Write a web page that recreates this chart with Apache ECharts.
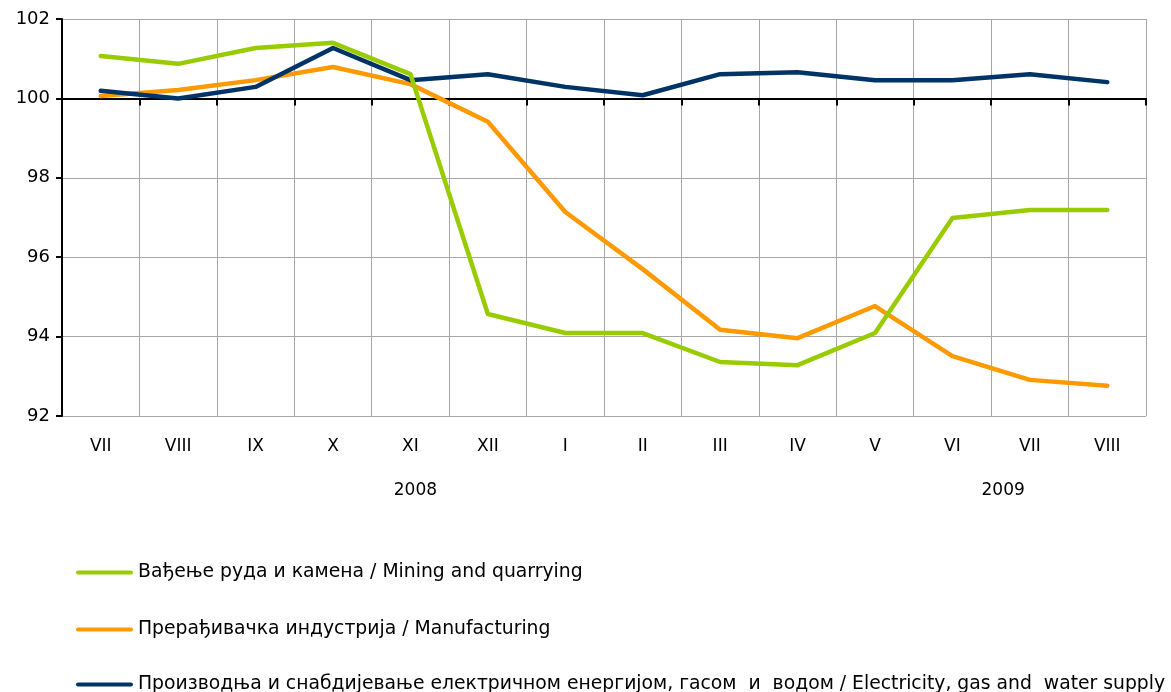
<!DOCTYPE html>
<html><head><meta charset="utf-8">
<script src="https://cdn.jsdelivr.net/npm/echarts@6/dist/echarts.min.js"></script>
<style>html,body{margin:0;padding:0;background:#fff}#c{width:1171px;height:692px}</style>
</head><body><div id="c"></div>
<script>
var categories = ['VII','VIII','IX','X','XI','XII','I','II','III','IV','V','VI','VII','VIII'];
var yearLabels = ['2008','2009'];
var seriesNames = [
  'Вађење руда и камена / Mining and quarrying',
  'Прерађивачка индустрија / Manufacturing',
  'Производња и снабдијевање електричном енергијом, гасом  и  водом / Electricity, gas and  water supply'
];
var mining = [101.07,100.87,101.27,101.40,100.61,94.57,94.09,94.09,93.36,93.28,94.09,96.99,97.19,97.19];
var manufacturing = [100.06,100.21,100.46,100.79,100.36,99.41,97.14,95.70,94.17,93.96,94.77,93.51,92.91,92.76];
var electricity = [100.19,100.00,100.29,101.27,100.46,100.61,100.29,100.08,100.61,100.66,100.46,100.46,100.61,100.41];
var yTicks = {min:92, max:102, interval:2};

var FONT = 'DejaVu Sans';
var chart = echarts.init(document.getElementById('c'), null, {renderer:'canvas'});
var gridTop = 19, gridBottom = 276, gridH = 692 - gridTop - gridBottom;
var offset100 = -gridH * (100 - yTicks.min) / (yTicks.max - yTicks.min);
var icon = 'path://M2,0 L55,0 A2,2 0 0 1 55,4 L2,4 A2,2 0 0 1 2,0 Z';
var colors = ['#99cc00','#ff9900','#003366'];
var legendTops = [558, 615, 670];
function mkLegend(i){
  return {orient:'vertical', left:71, top:legendTops[i], itemWidth:57, itemHeight:5,
    textStyle:{fontFamily:FONT, fontSize:18.8, color:'#000'},
    data:[{name:seriesNames[i], icon:icon}]};
}
var lineSeries = [mining, manufacturing, electricity];
var zs = [4,2,3];
chart.setOption({
  animation:false,
  textStyle:{fontFamily:FONT},
  grid:{left:62, right:25, top:gridTop, bottom:gridBottom, containLabel:false},
  legend:[mkLegend(0), mkLegend(1), mkLegend(2)],
  xAxis:[{
    type:'category', data:categories, boundaryGap:true, position:'bottom',
    axisLine:{show:false}, axisTick:{show:false},
    axisLabel:{fontFamily:FONT, fontSize:17, color:'#000', margin:22, interval:0},
    splitLine:{show:true, interval:0, lineStyle:{color:'#a6a6a6', width:1}}
  },{
    type:'category', data:categories, boundaryGap:true, position:'bottom', offset:offset100,
    axisLine:{show:true, lineStyle:{color:'#000', width:2}},
    axisTick:{show:true, length:7, interval:0, lineStyle:{color:'#000', width:2}},
    axisLabel:{show:false}, splitLine:{show:false}
  }],
  yAxis:{
    type:'value', min:yTicks.min, max:yTicks.max, interval:yTicks.interval,
    axisLine:{show:true, lineStyle:{color:'#000', width:2}},
    axisTick:{show:true, length:6, lineStyle:{color:'#000', width:2}},
    axisLabel:{fontFamily:FONT, fontSize:18, color:'#000', margin:12},
    splitLine:{show:true, lineStyle:{color:'#a6a6a6', width:1}}
  },
  series:lineSeries.map(function(d,i){
    return {name:seriesNames[i], type:'line', data:d, z:zs[i], showSymbol:false, symbol:'none',
      lineStyle:{color:colors[i], width:4.5, cap:'round', join:'round'}, itemStyle:{color:colors[i]}};
  })
});
var p2008 = chart.convertToPixel({xAxisIndex:0}, 4);
var p2009 = (chart.convertToPixel({xAxisIndex:0}, 11) + chart.convertToPixel({xAxisIndex:0}, 12)) / 2;
chart.setOption({graphic:[
  {type:'text', x:p2008 + 5, y:482, style:{text:yearLabels[0], font:'17px "'+FONT+'"', fill:'#000', textAlign:'center'}},
  {type:'text', x:p2009 + 12, y:482, style:{text:yearLabels[1], font:'17px "'+FONT+'"', fill:'#000', textAlign:'center'}}
]});
</script></body></html>
